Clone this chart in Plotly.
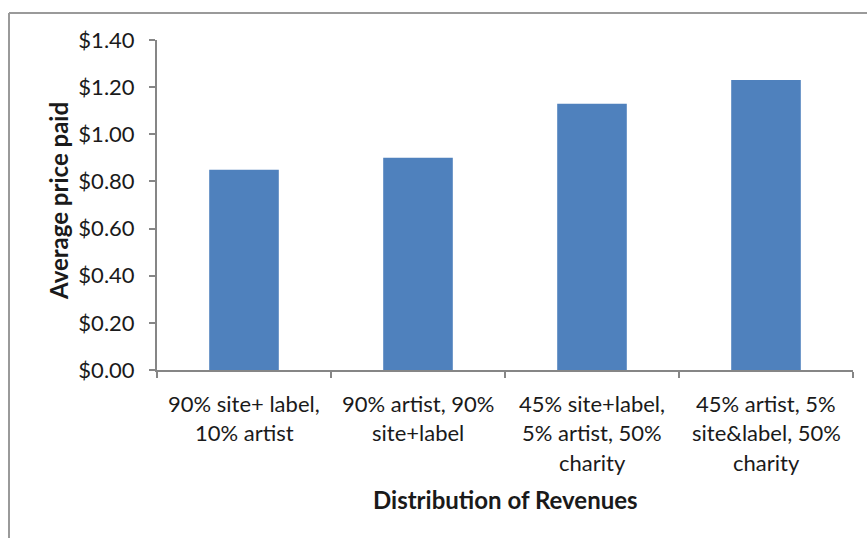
import plotly.graph_objects as go

# Revenue-split scenarios and the average price paid under each
categories = [
    "90% site+ label,\n10% artist",
    "90% artist, 90%\nsite+label",
    "45% site+label,\n5% artist, 50%\ncharity",
    "45% artist, 5%\nsite&label, 50%\ncharity",
]
avg_price = [0.85, 0.90, 1.13, 1.23]

y_ticks = [0.0, 0.2, 0.4, 0.6, 0.8, 1.0, 1.2, 1.4]

BAR_COLOR = "#4F81BD"
AXIS_COLOR = "#868686"
FONT = "Lato, 'Open Sans', sans-serif"
TEXT_COLOR = "#1a1a1a"

W, H = 867, 538
ML, MR, MT, MB = 157, 14, 40, 168
plot_w = W - ML - MR
plot_h = H - MT - MB

fig = go.Figure(
    go.Bar(
        x=categories,
        y=avg_price,
        marker=dict(color=BAR_COLOR, line=dict(width=0)),
        hoverinfo="x+y",
    )
)

# Multi-line category labels, one annotation per line for Excel-like spacing
annotations = []
for cat in categories:
    for j, line in enumerate(cat.split("\n")):
        annotations.append(dict(
            x=cat, y=0, xref="x", yref="y",
            text=line, showarrow=False,
            yanchor="middle", xanchor="center",
            yshift=-(33 + 29.5 * j),
            font=dict(family=FONT, size=22, color=TEXT_COLOR),
        ))

# Axis titles
annotations.append(dict(
    x=0.5, y=(370 - 499) / plot_h, xref="paper", yref="paper",
    text="<b>Distribution of Revenues</b>", showarrow=False,
    xanchor="center", yanchor="middle",
    font=dict(family=FONT, size=24, color=TEXT_COLOR),
))
annotations.append(dict(
    x=(58 - ML) / plot_w, y=(370 - 201) / plot_h, xref="paper", yref="paper",
    text="<b>Average price paid</b>", showarrow=False, textangle=-90,
    xanchor="center", yanchor="middle",
    font=dict(family=FONT, size=24, color=TEXT_COLOR),
))

# Chart-area frame (top and left edges visible)
shapes = [
    dict(type="line", xref="paper", yref="paper",
         x0=(9 - ML) / plot_w, x1=(W + 10 - ML) / plot_w,
         y0=(370 - 13) / plot_h, y1=(370 - 13) / plot_h,
         line=dict(color="#9a9a9a", width=2)),
    dict(type="line", xref="paper", yref="paper",
         x0=(9 - ML) / plot_w, x1=(9 - ML) / plot_w,
         y0=(370 - 13) / plot_h, y1=(370 - H - 10) / plot_h,
         line=dict(color="#9a9a9a", width=2)),
]

fig.update_layout(
    width=W, height=H,
    margin=dict(l=ML, r=MR, t=MT, b=MB, autoexpand=False),
    paper_bgcolor="white", plot_bgcolor="white",
    bargap=0.6,
    showlegend=False,
    annotations=annotations,
    shapes=shapes,
    font=dict(family=FONT, color=TEXT_COLOR),
)

fig.update_xaxes(
    type="category",
    showticklabels=False,
    tickson="boundaries",
    ticks="outside", ticklen=6, tickwidth=2, tickcolor=AXIS_COLOR,
    showline=True, linecolor=AXIS_COLOR, linewidth=2,
    showgrid=False, zeroline=False,
)

fig.update_yaxes(
    range=[0, 1.4],
    tickvals=y_ticks,
    tickformat="$.2f",
    ticks="outside", ticklen=6, tickwidth=2, tickcolor=AXIS_COLOR,
    showline=True, linecolor=AXIS_COLOR, linewidth=2,
    showgrid=False, zeroline=False,
    ticklabelstandoff=10,
    tickfont=dict(family=FONT, size=22, color=TEXT_COLOR),
)

fig.write_html("out.html")
